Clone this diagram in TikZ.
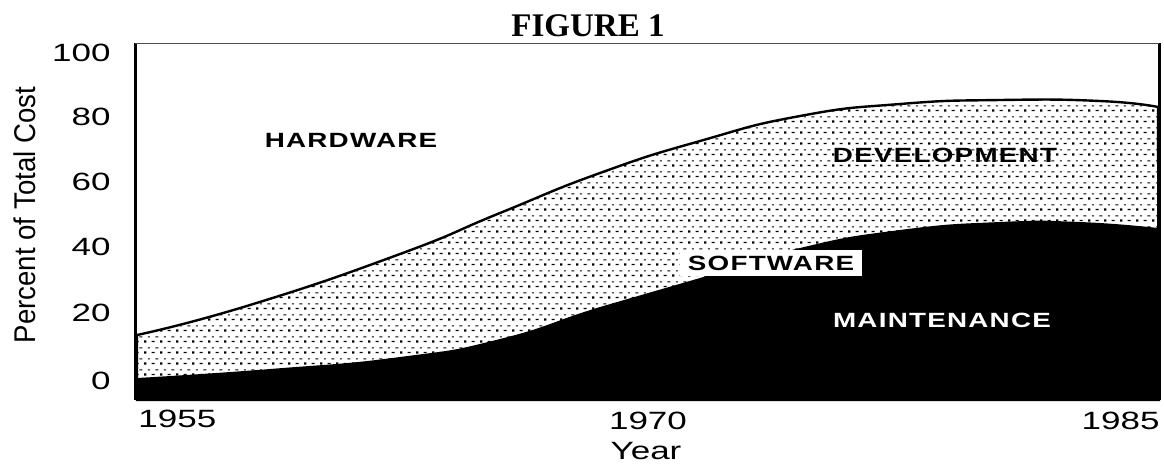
\documentclass[tikz,border=0pt]{standalone}
\usepackage{fontspec}
\usepackage{tikz}
\usetikzlibrary{patterns.meta}

\newfontfamily\tickfont[FakeStretch=1.4]{Liberation Sans}
\newfontfamily\areafont[FakeStretch=1.35,LetterSpace=6]{Liberation Sans}
\newfontfamily\axisfont[FakeStretch=0.92]{Liberation Sans}
\newfontfamily\titlefont{Liberation Serif}

\tikzdeclarepattern{
  name=halftone,
  type=uncolored,
  bottom left={(0pt,0pt)},
  top right={(8pt,5.5pt)},
  tile size={(8pt,5.5pt)},
  code={
    \fill (0pt,0.2pt)   rectangle (1.2pt,1.4pt);
    \fill (4pt,0.5pt)   rectangle (5.6pt,1.1pt);
    \fill (2pt,3pt)     rectangle (3.1pt,3.6pt);
    \fill (6pt,3pt)     rectangle (7.6pt,3.6pt);
  }
}

\tikzset{
  ticklabel/.style={font=\tickfont\fontsize{12.5}{14}\selectfont, inner sep=0pt},
  arealabel/.style={font=\areafont\bfseries\fontsize{10.3}{12}\selectfont, inner sep=0pt},
  frame/.style={line width=1.5pt},
}

\begin{document}
\begin{tikzpicture}[x=0.5pt,y=-0.5pt]
    \useasboundingbox (0,0) rectangle (1164,463);

    % software share (development + maintenance)
    \filldraw[pattern=halftone, pattern color=black, draw=black, line width=1.2pt]
        (137,400) -- plot[smooth, tension=0.9] coordinates {(137,335) (250,305) (400,254)
            (500,213) (600,173) (700,141) (800,116) (900,104) (1000,100) (1100,101) (1158,107)}
        -- (1159,400) -- cycle;

    % maintenance share
    \fill[black] (137,400) -- plot[smooth, tension=0.9] coordinates {(137,378) (270,369)
        (400,357) (500,339) (600,307) (700,278) (800,248) (900,230) (1000,222) (1080,222) (1158,228)}
        -- (1159,400) -- cycle;

    % frame
    \draw[frame] (135,43) -- (135,400);
    \draw[frame] (1159,43) -- (1159,400);
    \draw[line width=0.4pt, black!70] (135,43) -- (1159,43);

    \node[font=\titlefont\bfseries\fontsize{16.5}{18}\selectfont, anchor=base, inner sep=0pt] (title) at (588,36) {FIGURE 1};

    \foreach \v/\yy in {100/52.5,80/117,60/182,40/247,20/313,0/381}
        \node[ticklabel, anchor=east] (t\v) at (111,\yy) {\v};

    \node[ticklabel, anchor=west] (y1955) at (138,419) {1955};
    \node[ticklabel]              (y1970) at (648,421) {1970};
    \node[ticklabel, anchor=east] (y1985) at (1160,421) {1985};
    \node[ticklabel]              (xlab)  at (646,451.5) {Year};

    \node[font=\axisfont\fontsize{15}{17}\selectfont, inner sep=0pt, rotate=90] (ylab) at (25,215) {Percent of Total Cost};

    \node[arealabel]                     (hw)  at (351,140) {HARDWARE};
    \node[arealabel]                     (dev) at (945,155) {DEVELOPMENT};
    \node[arealabel, fill=white, minimum width=91pt, minimum height=13pt] (sw) at (771,263) {SOFTWARE};
    \node[arealabel, text=white]         (mnt) at (942,320) {MAINTENANCE};
\end{tikzpicture}
\end{document}
